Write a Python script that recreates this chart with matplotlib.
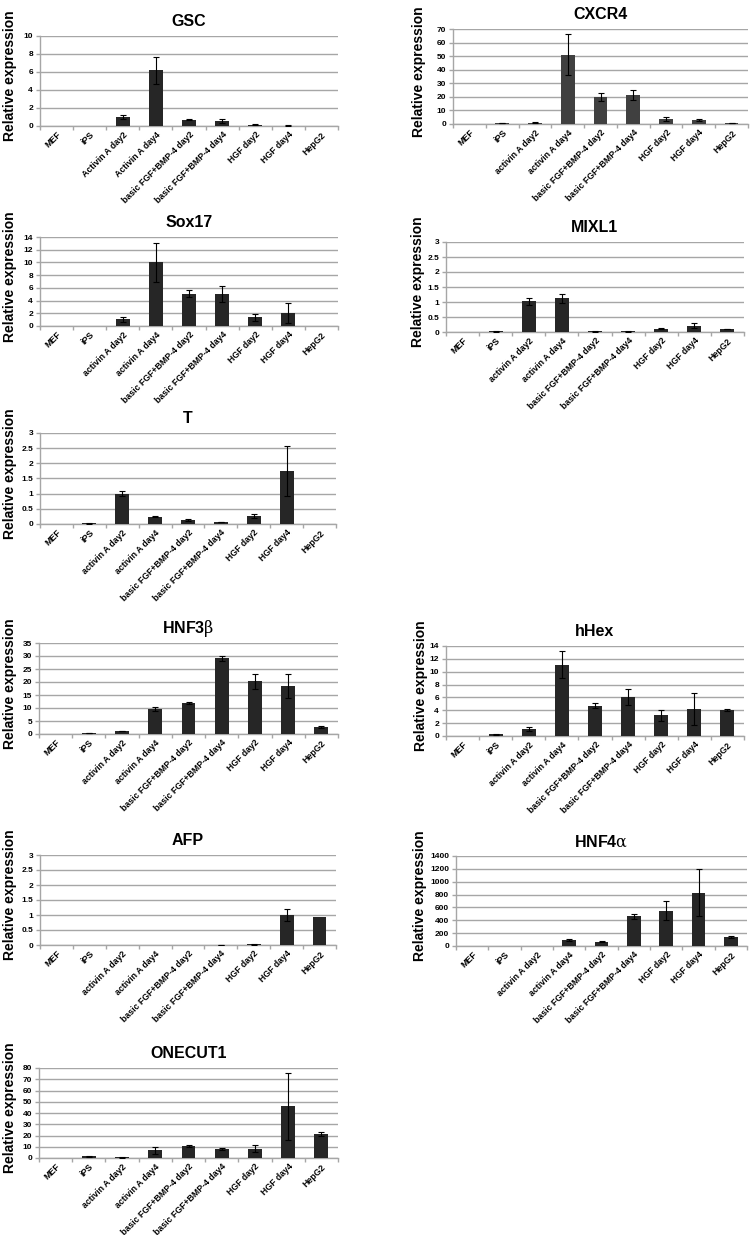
import matplotlib
matplotlib.use("Agg")
import matplotlib.pyplot as plt
import numpy as np

plt.rcParams['font.family'] = ['Liberation Sans', 'DejaVu Sans']
plt.rcParams['mathtext.fontset'] = 'custom'
plt.rcParams['mathtext.rm'] = 'DejaVu Serif'
plt.rcParams['mathtext.it'] = 'DejaVu Serif'
plt.rcParams['mathtext.bf'] = 'DejaVu Serif'

cats_gsc = ["MEF", "iPS", "Activin A day2", "Activin A day4", "basic FGF+BMP-4 day2",
            "basic FGF+BMP-4 day4", "HGF day2", "HGF day4", "HepG2"]
cats = ["MEF", "iPS", "activin A day2", "activin A day4", "basic FGF+BMP-4 day2",
        "basic FGF+BMP-4 day4", "HGF day2", "HGF day4", "HepG2"]

gsc_val = [0, 0, 1.0, 6.2, 0.7, 0.55, 0.15, 0.05, 0]
gsc_err = [0, 0, 0.2, 1.5, 0.05, 0.2, 0.03, 0.04, 0]

cxcr4_val = [0, 0.5, 1.0, 51.0, 20.2, 21.2, 3.9, 2.7, 0.5]
cxcr4_err = [0, 0.1, 0.2, 15.0, 3.0, 3.6, 1.5, 0.7, 0.1]

sox17_val = [0, 0, 1.05, 10.0, 5.1, 5.0, 1.36, 2.05, 0]
sox17_err = [0, 0, 0.4, 3.0, 0.55, 1.25, 0.5, 1.5, 0]

mixl1_val = [0, 0.02, 1.02, 1.12, 0.02, 0.02, 0.11, 0.21, 0.1]
mixl1_err = [0, 0.005, 0.12, 0.15, 0.005, 0.005, 0.01, 0.08, 0.01]

t_val = [0, 0.02, 1.0, 0.24, 0.13, 0.06, 0.26, 1.75, 0]
t_err = [0, 0.005, 0.09, 0.02, 0.03, 0.01, 0.07, 0.82, 0]

hnf3b_val = [0, 0.3, 1.1, 9.7, 12.0, 29.1, 20.3, 18.5, 2.8]
hnf3b_err = [0, 0.05, 0.1, 0.8, 0.4, 0.9, 2.9, 4.5, 0.4]

hhex_val = [0, 0.25, 1.04, 11.1, 4.7, 6.1, 3.2, 4.15, 4.0]
hhex_err = [0, 0.03, 0.3, 2.1, 0.36, 1.2, 0.9, 2.5, 0.17]

afp_val = [0, 0, 0, 0, 0, 0.01, 0.02, 1.0, 0.94]
afp_err = [0, 0, 0, 0, 0, 0.005, 0.01, 0.2, 0]

hnf4a_val = [0, 0, 0, 93, 67, 461, 550, 830, 140]
hnf4a_err = [0, 0, 0, 15, 10, 40, 145, 365, 8]

onecut1_val = [0, 1.5, 0.5, 6.8, 10.4, 8.3, 8.3, 45.9, 21.3]
onecut1_err = [0, 0.3, 0.1, 3.0, 0.8, 0.8, 3.0, 29.6, 2.1]

W, H = 752, 1235
fig = plt.figure(figsize=(W / 100, H / 100), dpi=100)

# (title, categories, values, errors, ymax, ystep, bar color, left, right, top, bottom, ylabel_x)
panels = [
    ("GSC", cats_gsc, gsc_val, gsc_err, 10, 2, "#262626", 40, 338, 36, 126, 10),
    ("CXCR4", cats, cxcr4_val, cxcr4_err, 70, 10, "#404040", 453, 748, 29, 124, 419),
    ("Sox17", cats, sox17_val, sox17_err, 14, 2, "#262626", 40, 338, 237, 326, 10),
    ("MIXL1", cats, mixl1_val, mixl1_err, 3, 0.5, "#262626", 446, 744, 242, 332, 418),
    ("T", cats, t_val, t_err, 3, 0.5, "#262626", 40, 336, 433, 524, 10),
    ("HNF3$\\beta$", cats, hnf3b_val, hnf3b_err, 35, 5, "#262626", 39, 338, 643, 734, 10),
    ("hHex", cats, hhex_val, hhex_err, 14, 2, "#262626", 446, 744, 646, 736, 421),
    ("AFP", cats, afp_val, afp_err, 3, 0.5, "#262626", 40, 336, 855, 945, 10),
    ("HNF4$\\alpha$", cats, hnf4a_val, hnf4a_err, 1400, 200, "#262626", 456, 747, 856, 946, 420),
    ("ONECUT1", cats, onecut1_val, onecut1_err, 80, 10, "#262626", 39, 338, 1068, 1158, 10),
]

grid_c = "#a6a6a6"
for (title, cl, vals, errs, ymax, ystep, col, l, r, t, b, ylx) in panels:
    ax = fig.add_axes([l / W, 1 - b / H, (r - l) / W, (b - t) / H])
    x = np.arange(len(cl))
    v = np.asarray(vals, dtype=float)
    e = np.asarray(errs, dtype=float)
    ax.bar(x, v, width=0.42, color=col, linewidth=0, zorder=3)
    m = e > 0
    ax.errorbar(x[m], v[m], yerr=e[m], fmt="none", ecolor="black", elinewidth=0.8,
                capsize=2.5, capthick=0.8, zorder=4)
    ax.set_xlim(-0.5, len(cl) - 0.5)
    ax.set_ylim(0, ymax)
    yt = np.arange(0, ymax + ystep / 2, ystep)
    ax.set_yticks(yt)
    ax.set_yticklabels([("%g" % val) for val in yt], fontsize=6, fontweight="bold")
    ax.yaxis.grid(True, color=grid_c, linewidth=1.0, zorder=0)
    ax.set_axisbelow(True)
    ax.set_xticks(x)
    ax.set_xticklabels(cl, rotation=45, ha="right", rotation_mode="anchor",
                       fontsize=6.3, fontweight="bold")
    ax.set_xticks(np.arange(-0.5, len(cl)), minor=True)
    ax.tick_params(axis="x", which="major", length=0, pad=3)
    ax.tick_params(axis="x", which="minor", length=3, color=grid_c, width=1.0)
    ax.tick_params(axis="y", length=3, color=grid_c, width=1.0, pad=2)
    for s in ["top", "right"]:
        ax.spines[s].set_visible(False)
    for s in ["left", "bottom"]:
        ax.spines[s].set_color(grid_c)
        ax.spines[s].set_linewidth(1.0)
    ax.set_title(title, fontsize=11.5, fontweight="bold", pad=7)
    fig.text(ylx / W, 1 - ((t + b) / 2 - 5) / H, "Relative expression", rotation=90,
             ha="center", va="center", fontsize=10, fontweight="bold")

fig.savefig("out.png", dpi=100, facecolor="white")
